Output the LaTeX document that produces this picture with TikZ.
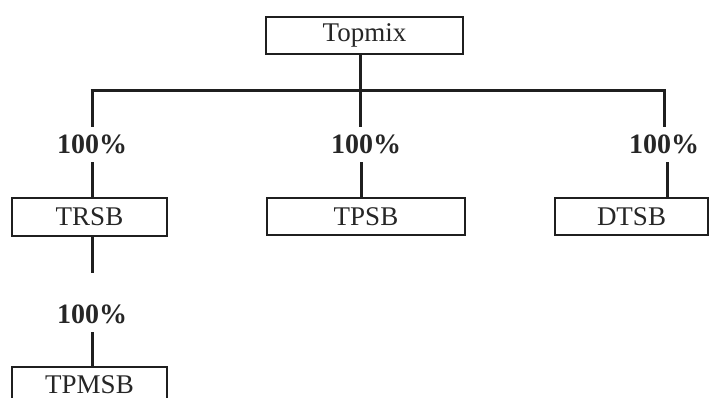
\documentclass[tikz,border=0pt]{standalone}
\usepackage{fontspec}
\setmainfont{Liberation Serif}
\begin{document}
\begin{tikzpicture}[x=1pt,y=-1pt,
  box/.style={draw=black!88, line width=2pt, rectangle, inner sep=0pt, minimum height=37pt,
    font=\fontsize{27}{30}\selectfont, text=black!85},
  pct/.style={inner sep=0pt, minimum height=35pt, minimum width=72pt,
    font=\fontsize{28}{30}\selectfont\bfseries, text=black!85},
  conn/.style={draw=black!88, line width=3pt}]
\useasboundingbox (0,0) rectangle (709,398);
% boxes
\node[box, minimum width=197pt] (top) at (364.5,35.5) {Topmix};
\node[box, minimum width=155pt] (trsb) at (89.5,217) {TRSB};
\node[box, minimum width=198pt] (tpsb) at (366,216.5) {TPSB};
\node[box, minimum width=153pt] (dtsb) at (631.5,216.5) {DTSB};
\node[box, minimum width=155pt, minimum height=38pt] (tpmsb) at (89.5,386) {};
\node[font=\fontsize{27}{30}\selectfont, text=black!85, inner sep=0pt, text depth=0pt, anchor=base] (tpmsbt) at (89.5,393) {TPMSB};
% labels
\node[pct] (p1) at (92,144.5) {100\%};
\node[pct] (p2) at (366,144.5) {100\%};
\node[pct] (p3) at (664,144.5) {100\%};
\node[pct] (p4) at (92,314.5) {100\%};
% junctions
\coordinate (j) at (360,91);
\coordinate (jl) at (90.5,91);
\coordinate (jr) at (665.5,91);
\coordinate (tail) at (92,273);
% connectors
\draw[conn] (top.south -| j) -- (j);
\draw[conn] (jl) -- (jr);
\draw[conn] (92,91) -- (92,127);
\draw[conn] (360,91) -- (360,127);
\draw[conn] (664,91) -- (664,127);
\draw[conn] (p1.south -| 92,0) -- (trsb.north -| 92,0);
\draw[conn] (p2.south -| 361,0) -- (tpsb.north -| 361,0);
\draw[conn] (p3.south -| 667,0) -- (dtsb.north -| 667,0);
\draw[conn] (trsb.south -| tail) -- (tail);
\draw[conn] (p4.south -| 92,0) -- (tpmsb.north -| 92,0);
\end{tikzpicture}
\end{document}
